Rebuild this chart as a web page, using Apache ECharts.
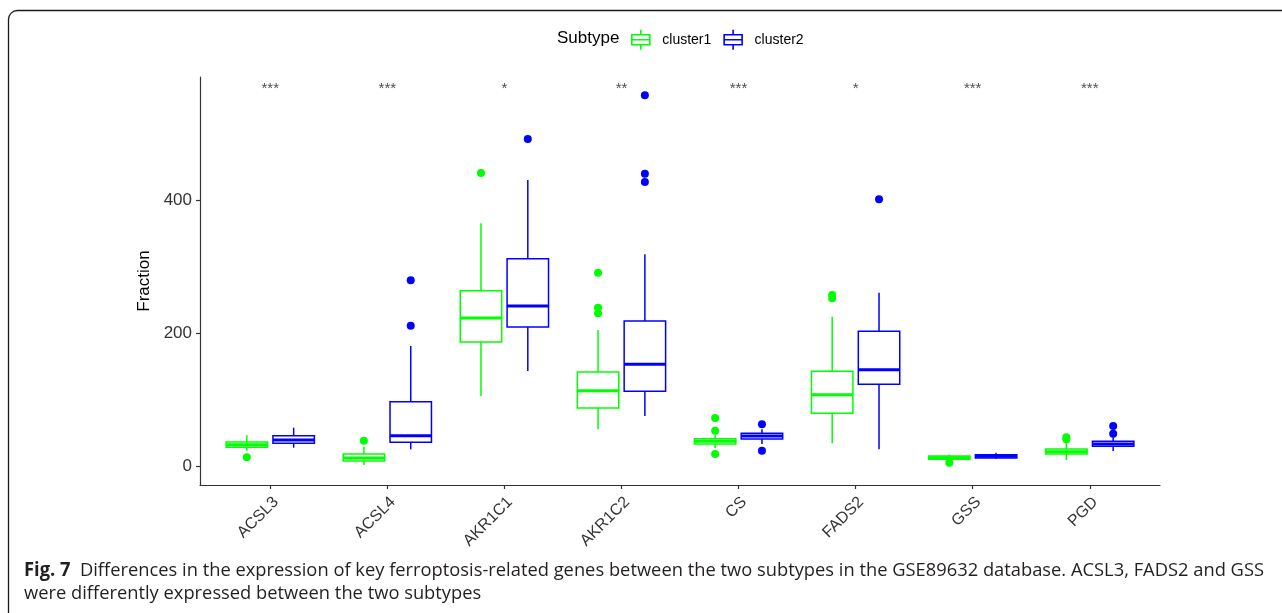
<!DOCTYPE html>
<html>
<head>
<meta charset="utf-8">
<script src="https://cdn.jsdelivr.net/npm/echarts@6/dist/echarts.min.js"></script>
<style>
  html, body { margin: 0; padding: 0; background: #fff; }
  #chart { width: 1282px; height: 613px; }
</style>
</head>
<body>
<div id="chart"></div>
<script>
// genes on the x axis
var categories = ['ACSL3', 'ACSL4', 'AKR1C1', 'AKR1C2', 'CS', 'FADS2', 'GSS', 'PGD'];

// box stats: [lower whisker, Q1, median, Q3, upper whisker]
var cluster1Box = [
    [24, 29, 33, 37, 47],
    [2.5, 8.5, 13, 19, 30],
    [106, 187, 223, 264, 365],
    [56, 88, 114, 142, 205],
    [28, 34, 38, 42, 48],
    [35, 80, 108, 143, 225],
    [10, 11, 13.5, 16, 18],
    [10, 19, 22.5, 26.5, 40]
];
var cluster2Box = [
    [28.5, 35, 40, 46.5, 58.5],
    [26, 36.5, 46.5, 97.5, 181],
    [143.5, 209.5, 241, 312, 430],
    [76, 113, 153.6, 218.5, 318.6],
    [34, 41.5, 46, 50, 56],
    [26, 123.6, 145.5, 203, 261],
    [12, 13, 15.5, 18, 21],
    [23.5, 30.6, 34, 38, 44]
];

// outliers: [category index, value]
var cluster1Outliers = [
    [0, 14], [1, 39], [2, 440.5], [3, 291], [3, 238.5], [3, 230],
    [4, 73], [4, 54], [4, 19], [5, 257.5], [5, 252.6], [6, 6], [7, 44], [7, 41]
];
var cluster2Outliers = [
    [1, 279.6], [1, 211.5], [2, 491.5], [3, 557], [3, 439.5], [3, 427],
    [4, 63.6], [4, 24], [5, 401], [7, 61], [7, 49.5]
];

var sigLabels = ['***', '***', '*', '**', '***', '*', '***', '***'];
var sigY = 566;
var yTicks = [0, 200, 400];

var GREEN = '#00FF00';
var BLUE = '#0000FF';

// layout (ggplot style discrete axis: 0.6 unit padding each side)
var plotLeft = 200, plotWidth = 960, plotTop = 77, plotHeight = 408;
var unitPx = plotWidth / (categories.length + 0.2);
var dodge = 0.2;      // box offset from tick, category units
var halfBox = 0.177;  // half box width, category units

function boxRenderer(color, shift) {
    return function (params, api) {
        var x = api.value(0) + shift;
        var lo = api.coord([x, api.value(1)]);
        var q1 = api.coord([x, api.value(2)]);
        var med = api.coord([x, api.value(3)]);
        var q3 = api.coord([x, api.value(4)]);
        var hi = api.coord([x, api.value(5)]);
        var left = api.coord([x - halfBox, 0])[0];
        var right = api.coord([x + halfBox, 0])[0];
        var thin = { stroke: color, lineWidth: 1.5 };
        return {
            type: 'group',
            children: [
                { type: 'line', shape: { x1: lo[0], y1: lo[1], x2: q1[0], y2: q1[1] }, style: thin },
                { type: 'line', shape: { x1: q3[0], y1: q3[1], x2: hi[0], y2: hi[1] }, style: thin },
                { type: 'rect', shape: { x: left, y: q3[1], width: right - left, height: q1[1] - q3[1] },
                  style: { fill: '#fff', stroke: color, lineWidth: 1.5 } },
                { type: 'line', shape: { x1: left, y1: med[1], x2: right, y2: med[1] },
                  style: { stroke: color, lineWidth: 3 } }
            ]
        };
    };
}

function boxData(stats) {
    return stats.map(function (s, i) { return [i + 1].concat(s); });
}
function pointData(list) {
    return list.map(function (p) { return [p[0] + 1, p[1]]; });
}

// caption, squeezed to the width of the original figure text
var capLine1 = 'Differences in the expression of key ferroptosis-related genes between the two subtypes in the GSE89632 database. ACSL3, FADS2 and GSS';
var capLine2 = 'were differently expressed between the two subtypes';
var capFont = '"Open Sans"';
var capSize = 19;
var ctx = document.createElement('canvas').getContext('2d');
ctx.font = 'bold ' + capSize + 'px ' + capFont;
var capW = ctx.measureText('Fig. 7').width;
ctx.font = capSize + 'px ' + capFont;
capW += ctx.measureText('  ' + capLine1).width;
var capScale = (1265 - 25) / capW;

var boxIcon = 'path://M9,0V5M0,5H18V15H0ZM0,10H18M9,15V20';

var myChart = echarts.init(document.getElementById('chart'), null, { renderer: 'canvas' });

var option = {
    animation: false,
    textStyle: { fontFamily: 'Liberation Sans' },
    title: {
        text: 'Subtype',
        left: 557,
        top: 30,
        padding: 0,
        textStyle: { fontSize: 17, fontWeight: 'normal', color: '#000', fontFamily: 'Liberation Sans' }
    },
    legend: {
        left: 631,
        top: 29,
        padding: 0,
        itemWidth: 19,
        itemHeight: 20,
        itemGap: 12,
        textStyle: { fontSize: 14, color: '#000', padding: [0, 0, 0, 7] },
        data: [
            { name: 'cluster1', icon: boxIcon, itemStyle: { color: 'rgba(0,0,0,0)', borderColor: GREEN, borderWidth: 1.6 } },
            { name: 'cluster2', icon: boxIcon, itemStyle: { color: 'rgba(0,0,0,0)', borderColor: BLUE, borderWidth: 1.6 } }
        ]
    },
    grid: { left: plotLeft, width: plotWidth, top: plotTop, height: plotHeight },
    xAxis: {
        type: 'value',
        min: 0.4,
        max: categories.length + 0.6,
        splitLine: { show: false },
        axisLine: { onZero: false, lineStyle: { color: '#333', width: 1.2 } },
        axisTick: {
            length: 4,
            customValues: categories.map(function (c, i) { return i + 1; }),
            lineStyle: { color: '#333', width: 1.2 }
        },
        axisLabel: {
            customValues: categories.map(function (c, i) { return i + 1; }),
            formatter: function (v) { return categories[Math.round(v) - 1]; },
            rotate: 45,
            verticalAlign: 'top',
            margin: 9,
            fontSize: 16,
            color: '#333'
        }
    },
    yAxis: {
        type: 'value',
        min: -27.5,
        max: 584.5,
        name: 'Fraction',
        nameLocation: 'middle',
        nameGap: 43,
        nameTextStyle: { fontSize: 17, color: '#000' },
        splitLine: { show: false },
        axisLine: { show: true, onZero: false, lineStyle: { color: '#333', width: 1.2 } },
        axisTick: { show: true, length: 4, customValues: yTicks, lineStyle: { color: '#333', width: 1.2 } },
        axisLabel: { customValues: yTicks, margin: 8, fontSize: 17, color: '#333' }
    },
    series: [
        {
            name: 'cluster1',
            type: 'custom',
            renderItem: boxRenderer(GREEN, -dodge),
            encode: { x: 0, y: [1, 2, 3, 4, 5] },
            data: boxData(cluster1Box)
        },
        {
            name: 'cluster2',
            type: 'custom',
            renderItem: boxRenderer(BLUE, dodge),
            encode: { x: 0, y: [1, 2, 3, 4, 5] },
            data: boxData(cluster2Box)
        },
        {
            name: 'cluster1',
            type: 'scatter',
            symbolSize: 8,
            symbolOffset: [-dodge * unitPx, 0],
            itemStyle: { color: GREEN, opacity: 1 },
            data: pointData(cluster1Outliers)
        },
        {
            name: 'cluster2',
            type: 'scatter',
            symbolSize: 8,
            symbolOffset: [dodge * unitPx, 0],
            itemStyle: { color: BLUE, opacity: 1 },
            data: pointData(cluster2Outliers)
        },
        {
            name: 'sig',
            type: 'scatter',
            symbolSize: 0,
            silent: true,
            label: {
                show: true,
                position: 'inside',
                fontSize: 15,
                color: '#222',
                formatter: function (p) { return sigLabels[p.dataIndex]; }
            },
            data: sigLabels.map(function (s, i) { return [i + 1, sigY]; })
        }
    ],
    graphic: [
        {
            type: 'rect',
            silent: true,
            shape: { x: 8.5, y: 10.5, width: 1300, height: 640, r: [9, 0, 0, 0] },
            style: { fill: 'none', stroke: '#1a1a1a', lineWidth: 1.3 }
        },
        {
            type: 'text',
            silent: true,
            x: 24,
            y: 559.5,
            scaleX: capScale,
            style: {
                text: '{b|Fig. 7}  ' + capLine1 + '\n' + capLine2,
                font: capSize + 'px ' + capFont,
                lineHeight: 23,
                fill: '#231f20',
                rich: {
                    b: { fontWeight: 'bold', fontSize: capSize, fontFamily: 'Open Sans', lineHeight: 23 }
                }
            }
        }
    ]
};

myChart.setOption(option);
window.addEventListener('resize', myChart.resize);
</script>
</body>
</html>
